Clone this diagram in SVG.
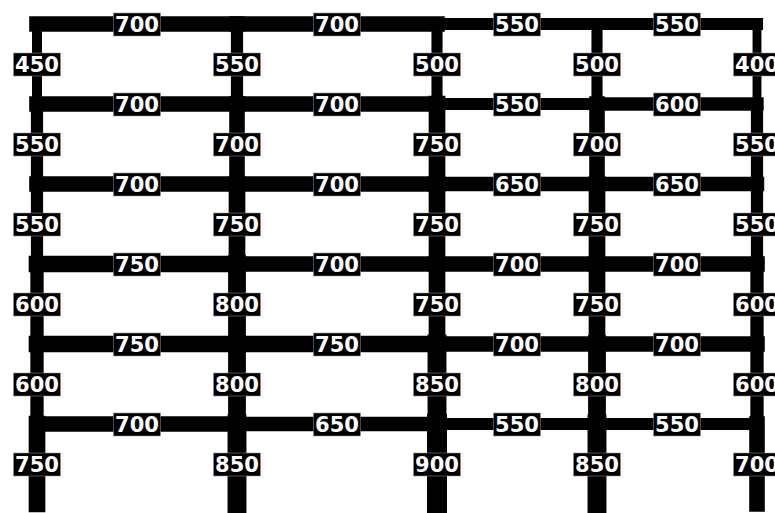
<svg xmlns="http://www.w3.org/2000/svg" width="775" height="513" viewBox="0 0 775 513">
<style>
.m{stroke:#000;stroke-linecap:square;fill:none}
.lb rect{fill:#000;stroke:#999;stroke-width:0.5}
.lb text{fill:#fff;font-family:"DejaVu Sans","Liberation Sans",sans-serif;font-weight:bold;font-size:21px;text-anchor:middle}
</style>
<rect width="775" height="513" fill="#fff"/>
<g id="members">
<g id="columns">
<line class="m" x1="37" y1="24" x2="37" y2="104" stroke-width="10"/>
<line class="m" x1="237" y1="24" x2="237" y2="104" stroke-width="12.2"/>
<line class="m" x1="437" y1="24" x2="437" y2="104" stroke-width="11.1"/>
<line class="m" x1="597" y1="24" x2="597" y2="104" stroke-width="11.1"/>
<line class="m" x1="757" y1="24" x2="757" y2="104" stroke-width="8.9"/>
<line class="m" x1="37" y1="104" x2="37" y2="184" stroke-width="12.2"/>
<line class="m" x1="237" y1="104" x2="237" y2="184" stroke-width="15.6"/>
<line class="m" x1="437" y1="104" x2="437" y2="184" stroke-width="16.7"/>
<line class="m" x1="597" y1="104" x2="597" y2="184" stroke-width="15.6"/>
<line class="m" x1="757" y1="104" x2="757" y2="184" stroke-width="12.2"/>
<line class="m" x1="37" y1="184" x2="37" y2="264" stroke-width="12.2"/>
<line class="m" x1="237" y1="184" x2="237" y2="264" stroke-width="16.7"/>
<line class="m" x1="437" y1="184" x2="437" y2="264" stroke-width="16.7"/>
<line class="m" x1="597" y1="184" x2="597" y2="264" stroke-width="16.7"/>
<line class="m" x1="757" y1="184" x2="757" y2="264" stroke-width="12.2"/>
<line class="m" x1="37" y1="264" x2="37" y2="344" stroke-width="13.3"/>
<line class="m" x1="237" y1="264" x2="237" y2="344" stroke-width="17.8"/>
<line class="m" x1="437" y1="264" x2="437" y2="344" stroke-width="16.7"/>
<line class="m" x1="597" y1="264" x2="597" y2="344" stroke-width="16.7"/>
<line class="m" x1="757" y1="264" x2="757" y2="344" stroke-width="13.3"/>
<line class="m" x1="37" y1="344" x2="37" y2="424" stroke-width="13.3"/>
<line class="m" x1="237" y1="344" x2="237" y2="424" stroke-width="17.8"/>
<line class="m" x1="437" y1="344" x2="437" y2="424" stroke-width="18.9"/>
<line class="m" x1="597" y1="344" x2="597" y2="424" stroke-width="17.8"/>
<line class="m" x1="757" y1="344" x2="757" y2="424" stroke-width="13.3"/>
<line class="m" x1="37" y1="424" x2="37" y2="504" stroke-width="16.7"/>
<line class="m" x1="237" y1="424" x2="237" y2="504" stroke-width="18.9"/>
<line class="m" x1="437" y1="424" x2="437" y2="504" stroke-width="20"/>
<line class="m" x1="597" y1="424" x2="597" y2="504" stroke-width="18.9"/>
<line class="m" x1="757" y1="424" x2="757" y2="504" stroke-width="15.6"/>
</g>
<g id="beams">
<line class="m" x1="37" y1="24" x2="237" y2="24" stroke-width="15.6"/>
<line class="m" x1="237" y1="24" x2="437" y2="24" stroke-width="15.6"/>
<line class="m" x1="437" y1="24" x2="597" y2="24" stroke-width="12.2"/>
<line class="m" x1="597" y1="24" x2="757" y2="24" stroke-width="12.2"/>
<line class="m" x1="37" y1="104" x2="237" y2="104" stroke-width="15.6"/>
<line class="m" x1="237" y1="104" x2="437" y2="104" stroke-width="15.6"/>
<line class="m" x1="437" y1="104" x2="597" y2="104" stroke-width="12.2"/>
<line class="m" x1="597" y1="104" x2="757" y2="104" stroke-width="13.3"/>
<line class="m" x1="37" y1="184" x2="237" y2="184" stroke-width="15.6"/>
<line class="m" x1="237" y1="184" x2="437" y2="184" stroke-width="15.6"/>
<line class="m" x1="437" y1="184" x2="597" y2="184" stroke-width="14.4"/>
<line class="m" x1="597" y1="184" x2="757" y2="184" stroke-width="14.4"/>
<line class="m" x1="37" y1="264" x2="237" y2="264" stroke-width="16.7"/>
<line class="m" x1="237" y1="264" x2="437" y2="264" stroke-width="15.6"/>
<line class="m" x1="437" y1="264" x2="597" y2="264" stroke-width="15.6"/>
<line class="m" x1="597" y1="264" x2="757" y2="264" stroke-width="15.6"/>
<line class="m" x1="37" y1="344" x2="237" y2="344" stroke-width="16.7"/>
<line class="m" x1="237" y1="344" x2="437" y2="344" stroke-width="16.7"/>
<line class="m" x1="437" y1="344" x2="597" y2="344" stroke-width="15.6"/>
<line class="m" x1="597" y1="344" x2="757" y2="344" stroke-width="15.6"/>
<line class="m" x1="37" y1="424" x2="237" y2="424" stroke-width="15.6"/>
<line class="m" x1="237" y1="424" x2="437" y2="424" stroke-width="14.4"/>
<line class="m" x1="437" y1="424" x2="597" y2="424" stroke-width="12.2"/>
<line class="m" x1="597" y1="424" x2="757" y2="424" stroke-width="12.2"/>
</g>
</g>
<g id="labels" class="lb">
<g id="bl-0"><rect x="113.5" y="13" width="47" height="23"/><text x="137" y="31.5">700</text></g>
<g id="bl-1"><rect x="313.5" y="13" width="47" height="23"/><text x="337" y="31.5">700</text></g>
<g id="bl-2"><rect x="493.5" y="13" width="47" height="23"/><text x="517" y="31.5">550</text></g>
<g id="bl-3"><rect x="653.5" y="13" width="47" height="23"/><text x="677" y="31.5">550</text></g>
<g id="bl-4"><rect x="113.5" y="93" width="47" height="23"/><text x="137" y="111.5">700</text></g>
<g id="bl-5"><rect x="313.5" y="93" width="47" height="23"/><text x="337" y="111.5">700</text></g>
<g id="bl-6"><rect x="493.5" y="93" width="47" height="23"/><text x="517" y="111.5">550</text></g>
<g id="bl-7"><rect x="653.5" y="93" width="47" height="23"/><text x="677" y="111.5">600</text></g>
<g id="bl-8"><rect x="113.5" y="173" width="47" height="23"/><text x="137" y="191.5">700</text></g>
<g id="bl-9"><rect x="313.5" y="173" width="47" height="23"/><text x="337" y="191.5">700</text></g>
<g id="bl-10"><rect x="493.5" y="173" width="47" height="23"/><text x="517" y="191.5">650</text></g>
<g id="bl-11"><rect x="653.5" y="173" width="47" height="23"/><text x="677" y="191.5">650</text></g>
<g id="bl-12"><rect x="113.5" y="253" width="47" height="23"/><text x="137" y="271.5">750</text></g>
<g id="bl-13"><rect x="313.5" y="253" width="47" height="23"/><text x="337" y="271.5">700</text></g>
<g id="bl-14"><rect x="493.5" y="253" width="47" height="23"/><text x="517" y="271.5">700</text></g>
<g id="bl-15"><rect x="653.5" y="253" width="47" height="23"/><text x="677" y="271.5">700</text></g>
<g id="bl-16"><rect x="113.5" y="333" width="47" height="23"/><text x="137" y="351.5">750</text></g>
<g id="bl-17"><rect x="313.5" y="333" width="47" height="23"/><text x="337" y="351.5">750</text></g>
<g id="bl-18"><rect x="493.5" y="333" width="47" height="23"/><text x="517" y="351.5">700</text></g>
<g id="bl-19"><rect x="653.5" y="333" width="47" height="23"/><text x="677" y="351.5">700</text></g>
<g id="bl-20"><rect x="113.5" y="413" width="47" height="23"/><text x="137" y="431.5">700</text></g>
<g id="bl-21"><rect x="313.5" y="413" width="47" height="23"/><text x="337" y="431.5">650</text></g>
<g id="bl-22"><rect x="493.5" y="413" width="47" height="23"/><text x="517" y="431.5">550</text></g>
<g id="bl-23"><rect x="653.5" y="413" width="47" height="23"/><text x="677" y="431.5">550</text></g>

<g id="cl-0"><rect x="13.5" y="53" width="47" height="23"/><text x="37" y="71.5">450</text></g>
<g id="cl-1"><rect x="213.5" y="53" width="47" height="23"/><text x="237" y="71.5">550</text></g>
<g id="cl-2"><rect x="413.5" y="53" width="47" height="23"/><text x="437" y="71.5">500</text></g>
<g id="cl-3"><rect x="573.5" y="53" width="47" height="23"/><text x="597" y="71.5">500</text></g>
<g id="cl-4"><rect x="733.5" y="53" width="47" height="23"/><text x="757" y="71.5">400</text></g>
<g id="cl-5"><rect x="13.5" y="133" width="47" height="23"/><text x="37" y="151.5">550</text></g>
<g id="cl-6"><rect x="213.5" y="133" width="47" height="23"/><text x="237" y="151.5">700</text></g>
<g id="cl-7"><rect x="413.5" y="133" width="47" height="23"/><text x="437" y="151.5">750</text></g>
<g id="cl-8"><rect x="573.5" y="133" width="47" height="23"/><text x="597" y="151.5">700</text></g>
<g id="cl-9"><rect x="733.5" y="133" width="47" height="23"/><text x="757" y="151.5">550</text></g>
<g id="cl-10"><rect x="13.5" y="213" width="47" height="23"/><text x="37" y="231.5">550</text></g>
<g id="cl-11"><rect x="213.5" y="213" width="47" height="23"/><text x="237" y="231.5">750</text></g>
<g id="cl-12"><rect x="413.5" y="213" width="47" height="23"/><text x="437" y="231.5">750</text></g>
<g id="cl-13"><rect x="573.5" y="213" width="47" height="23"/><text x="597" y="231.5">750</text></g>
<g id="cl-14"><rect x="733.5" y="213" width="47" height="23"/><text x="757" y="231.5">550</text></g>
<g id="cl-15"><rect x="13.5" y="293" width="47" height="23"/><text x="37" y="311.5">600</text></g>
<g id="cl-16"><rect x="213.5" y="293" width="47" height="23"/><text x="237" y="311.5">800</text></g>
<g id="cl-17"><rect x="413.5" y="293" width="47" height="23"/><text x="437" y="311.5">750</text></g>
<g id="cl-18"><rect x="573.5" y="293" width="47" height="23"/><text x="597" y="311.5">750</text></g>
<g id="cl-19"><rect x="733.5" y="293" width="47" height="23"/><text x="757" y="311.5">600</text></g>
<g id="cl-20"><rect x="13.5" y="373" width="47" height="23"/><text x="37" y="391.5">600</text></g>
<g id="cl-21"><rect x="213.5" y="373" width="47" height="23"/><text x="237" y="391.5">800</text></g>
<g id="cl-22"><rect x="413.5" y="373" width="47" height="23"/><text x="437" y="391.5">850</text></g>
<g id="cl-23"><rect x="573.5" y="373" width="47" height="23"/><text x="597" y="391.5">800</text></g>
<g id="cl-24"><rect x="733.5" y="373" width="47" height="23"/><text x="757" y="391.5">600</text></g>
<g id="cl-25"><rect x="13.5" y="453" width="47" height="23"/><text x="37" y="471.5">750</text></g>
<g id="cl-26"><rect x="213.5" y="453" width="47" height="23"/><text x="237" y="471.5">850</text></g>
<g id="cl-27"><rect x="413.5" y="453" width="47" height="23"/><text x="437" y="471.5">900</text></g>
<g id="cl-28"><rect x="573.5" y="453" width="47" height="23"/><text x="597" y="471.5">850</text></g>
<g id="cl-29"><rect x="733.5" y="453" width="47" height="23"/><text x="757" y="471.5">700</text></g>
</g>
</svg>
